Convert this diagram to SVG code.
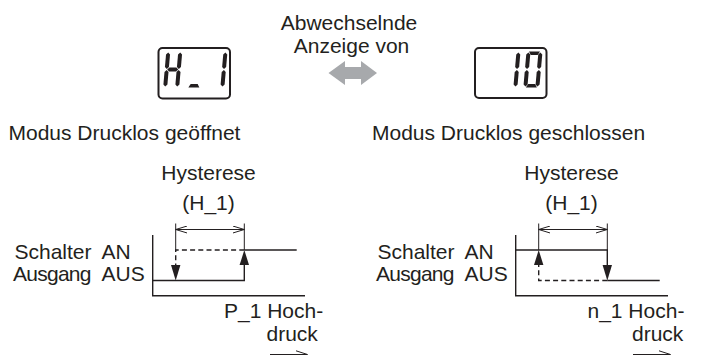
<svg xmlns="http://www.w3.org/2000/svg" width="722" height="356" viewBox="0 0 722 356">
  <style>
    text { font-family: "Liberation Sans", Arial, Helvetica, sans-serif; font-size: 21px; fill: #231f20; }
    .mid { text-anchor: middle; }
    .ln { fill: none; stroke: #231f20; stroke-width: 1.4; }
    .dash { fill: none; stroke: #231f20; stroke-width: 1.4; stroke-dasharray: 5 3.2; }
    .thin { fill: none; stroke: #231f20; stroke-width: 1; }
    .head { fill: #231f20; }
    .seg { fill: #231f20; }
    .lcd { fill: #ffffff; stroke: #231f20; stroke-width: 2; }
  </style>
  <defs>
    <!-- open chevron heads for the hysteresis dimension line -->
    <marker id="open" viewBox="0 0 12 8" refX="11.5" refY="4" markerWidth="12" markerHeight="8" markerUnits="userSpaceOnUse" orient="auto-start-reverse">
      <path d="M0,0.5 L11.5,4 L0,7.5" fill="none" stroke="#231f20" stroke-width="1"/>
    </marker>
    <!-- seven-segment pieces, digit cell 16 x 36 -->
    <polygon id="segF" points="2,1 4,3 4,15.5 2,17.5 0,15.5 0,3"/>
    <polygon id="segE" points="2,18.5 4,20.5 4,33 2,35 0,33 0,20.5"/>
    <polygon id="segB" points="14,1 16,3 16,15.5 14,17.5 12,15.5 12,3"/>
    <polygon id="segC" points="14,18.5 16,20.5 16,33 14,35 12,33 12,20.5"/>
    <polygon id="segG" points="2.5,18 4.5,16 11.5,16 13.5,18 11.5,20 4.5,20"/>
    <polygon id="segA" points="2.5,0 13.5,0 11.5,3.5 4.5,3.5"/>
    <polygon id="segD" points="4.5,32.5 11.5,32.5 13.5,36 2.5,36"/>
  </defs>

  <!-- headings -->
  <g id="caption">
    <text class="mid" x="349" y="30">Abwechselnde</text>
    <text class="mid" x="351.5" y="53">Anzeige von</text>
  </g>
  <g id="swap-arrow">
    <polygon points="328.5,73 345,61 345,67 361,67 361,61 377,73 361,85 361,79 345,79 345,85" fill="#a7a9ac"/>
  </g>

  <!-- display showing H_1 -->
  <g id="display-h1">
    <rect class="lcd" x="158.5" y="48" width="71.5" height="50.5" rx="4"/>
    <g class="seg" transform="translate(166.3,51.5) skewX(-5)">
      <use href="#segF"/><use href="#segE"/><use href="#segB"/><use href="#segC"/><use href="#segG"/>
    </g>
    <g class="seg" transform="translate(189,51.5) skewX(-5)">
      <use href="#segD"/>
    </g>
    <g class="seg" transform="translate(211.5,51.5) skewX(-5)">
      <use href="#segB"/><use href="#segC"/>
    </g>
  </g>

  <!-- display showing 10 -->
  <g id="display-10">
    <rect class="lcd" x="475" y="48" width="71.5" height="50" rx="4"/>
    <g class="seg" transform="translate(504.5,51.5) skewX(-5)">
      <use href="#segB"/><use href="#segC"/>
    </g>
    <g class="seg" transform="translate(526.5,51.5) skewX(-5)">
      <use href="#segA"/><use href="#segB"/><use href="#segC"/><use href="#segD"/><use href="#segE"/><use href="#segF"/>
    </g>
  </g>

  <!-- mode titles -->
  <g id="title-open"><text x="8.5" y="140">Modus Drucklos geöffnet</text></g>
  <g id="title-closed"><text x="372" y="140">Modus Drucklos geschlossen</text></g>

  <!-- normally open graph -->
  <g id="graph-open">
    <text class="mid" x="208.5" y="180">Hysterese</text>
    <text class="mid" x="208.5" y="209.5">(H_1)</text>
    <text x="14.5" y="259" textLength="77">Schalter</text>
    <text x="101.5" y="259">AN</text>
    <text x="13" y="281" textLength="78.5">Ausgang</text>
    <text x="101.5" y="281">AUS</text>
    <text x="224" y="318">P_1 Hoch-</text>
    <text x="266.5" y="341">druck</text>
  </g>

  <!-- normally closed graph -->
  <g id="graph-closed">
    <text class="mid" x="571.5" y="180">Hysterese</text>
    <text class="mid" x="571.5" y="209.5">(H_1)</text>
    <text x="377.5" y="259" textLength="77">Schalter</text>
    <text x="464.5" y="259">AN</text>
    <text x="376" y="281" textLength="78.5">Ausgang</text>
    <text x="464.5" y="281">AUS</text>
    <text x="587.5" y="318">n_1 Hoch-</text>
    <text x="632" y="341">druck</text>
  </g>

  <g id="connectors">
    <!-- normally open -->
    <polyline class="ln" points="152.7,235 152.7,295.7 305,295.7"/>
    <polyline class="ln" points="152.7,280.5 244.3,280.5 244.3,265"/>
    <line class="ln" x1="244.3" y1="250" x2="296.7" y2="250"/>
    <polygon class="head" points="239.6,265 249,265 244.3,250"/>
    <polyline class="dash" points="244.3,250 175.7,250 175.7,265"/>
    <polygon class="head" points="171,265 180.4,265 175.7,280.5"/>
    <line class="thin" x1="175.7" y1="223.5" x2="175.7" y2="250"/>
    <line class="thin" x1="244.3" y1="223.5" x2="244.3" y2="250"/>
    <line class="thin" x1="175.7" y1="229.5" x2="244.3" y2="229.5" marker-start="url(#open)" marker-end="url(#open)"/>
    <path class="thin" d="M270,354.5 L307.5,354.5 M296,350.8 L307.5,354.5"/>

    <!-- normally closed -->
    <polyline class="ln" points="515.7,235 515.7,295.7 668,295.7"/>
    <polyline class="ln" points="515.7,250 607.3,250 607.3,265"/>
    <line class="ln" x1="607.3" y1="280.5" x2="659.7" y2="280.5"/>
    <polygon class="head" points="602.6,265 612,265 607.3,280.5"/>
    <polyline class="dash" points="607.3,280.5 538.7,280.5 538.7,265"/>
    <polygon class="head" points="534,265 543.4,265 538.7,250"/>
    <line class="thin" x1="538.7" y1="223.5" x2="538.7" y2="250"/>
    <line class="thin" x1="607.3" y1="223.5" x2="607.3" y2="250"/>
    <line class="thin" x1="538.7" y1="229.5" x2="607.3" y2="229.5" marker-start="url(#open)" marker-end="url(#open)"/>
    <path class="thin" d="M633,354.5 L670.5,354.5 M659,350.8 L670.5,354.5"/>
  </g>
</svg>
